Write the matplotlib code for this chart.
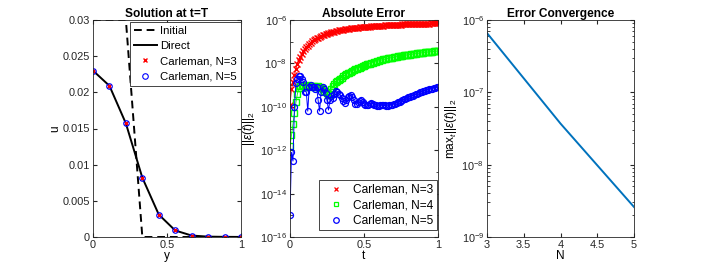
import numpy as np
import matplotlib
matplotlib.use("Agg")
import matplotlib.pyplot as plt
from matplotlib.lines import Line2D
from matplotlib.ticker import LogLocator, FixedLocator, NullFormatter

plt.rcParams['font.family'] = ['Liberation Sans', 'DejaVu Sans']
plt.rcParams['mathtext.fontset'] = 'custom'
plt.rcParams['mathtext.rm'] = 'Liberation Sans'
plt.rcParams['mathtext.it'] = 'Liberation Sans:italic'
plt.rcParams['mathtext.bf'] = 'Liberation Sans:bold'

# ---- panel 1: solution at t=T ----
y_grid = [0, 1/9, 2/9, 3/9, 4/9, 5/9, 6/9, 7/9, 8/9, 1]
u_initial = [0.03, 0.03, 0.03, 0, 0, 0, 0, 0, 0, 0]
u_direct = [0.0230, 0.0209, 0.0157, 0.0082, 0.0031, 0.0009, 0.0002, 0.00005, 0.00002, 0.00001]
u_carl3 = [0.0230, 0.0209, 0.0157, 0.0082, 0.0031, 0.0009, 0.0002, 0.00005, 0.00002, 0.00001]
u_carl5 = [0.0230, 0.0209, 0.0157, 0.0082, 0.0031, 0.0009, 0.0002, 0.00005, 0.00002, 0.00001]

# ---- panel 2: absolute error over time (log10 of ||eps||_2) ----
t_vals = [i / 100 for i in range(101)]
log_err3 = [
    -9.9, -9.2, -8.85, -8.55, -8.25, -8.02, -7.85, -7.70, -7.57, -7.45,
    -7.35, -7.26, -7.18, -7.11, -7.05, -6.99, -6.94, -6.89, -6.85, -6.81,
    -6.77, -6.74, -6.71, -6.68, -6.65, -6.63, -6.61, -6.59, -6.57, -6.55,
    -6.53, -6.51, -6.50, -6.48, -6.47, -6.46, -6.44, -6.43, -6.42, -6.41,
    -6.40, -6.39, -6.38, -6.37, -6.36, -6.355, -6.35, -6.34, -6.335, -6.33,
    -6.32, -6.315, -6.31, -6.305, -6.30, -6.295, -6.29, -6.285, -6.28, -6.275,
    -6.27, -6.265, -6.26, -6.255, -6.25, -6.245, -6.24, -6.236, -6.232, -6.228,
    -6.224, -6.22, -6.217, -6.214, -6.211, -6.208, -6.205, -6.202, -6.199, -6.196,
    -6.193, -6.19, -6.188, -6.185, -6.183, -6.18, -6.178, -6.176, -6.174, -6.172,
    -6.17, -6.168, -6.166, -6.164, -6.162, -6.16, -6.158, -6.156, -6.154, -6.152,
    -6.15]
log_err4 = [
    -11.8, -11.3, -10.8, -10.3, -9.8, -9.4, -9.15, -9.05, -9.0, -9.05,
    -9.1, -9.05, -9.0, -9.05, -9.1, -9.05, -9.05, -9.1, -9.1, -9.05,
    -9.1, -9.15, -9.2, -9.25, -9.3, -9.38, -9.45, -9.4, -9.2, -9.05,
    -8.95, -8.88, -8.81, -8.75, -8.70, -8.65, -8.60, -8.55, -8.51, -8.46,
    -8.42, -8.38, -8.35, -8.31, -8.28, -8.25, -8.22, -8.19, -8.16, -8.13,
    -8.10, -8.08, -8.05, -8.03, -8.01, -7.98, -7.96, -7.94, -7.92, -7.90,
    -7.88, -7.86, -7.84, -7.82, -7.81, -7.79, -7.77, -7.76, -7.74, -7.73,
    -7.72, -7.70, -7.69, -7.68, -7.66, -7.65, -7.64, -7.63, -7.62, -7.61,
    -7.60, -7.59, -7.58, -7.57, -7.56, -7.55, -7.54, -7.53, -7.52, -7.51,
    -7.50, -7.49, -7.48, -7.475, -7.47, -7.46, -7.455, -7.45, -7.44, -7.435,
    -7.43]
log_err5 = [
    -15.0, -12.1, -12.5, -10.0, -8.92, -8.7, -8.6, -8.6, -8.7, -8.85,
    -9.3, -9.3, -10.2, -9.1, -9.0, -9.1, -9.1, -9.2, -9.1, -9.7,
    -10.2, -9.3, -9.1, -9.2, -9.35, -9.7, -10.15, -9.7, -9.5, -9.6,
    -9.4, -9.25, -9.3, -9.4, -9.46, -9.6, -9.75, -9.84, -9.7, -9.55,
    -9.48, -9.46, -9.55, -9.7, -9.85, -9.88, -9.8, -9.72, -9.7, -9.76,
    -9.85, -9.9, -9.92, -9.9, -9.86, -9.84, -9.86, -9.9, -9.93, -9.95,
    -9.95, -9.94, -9.93, -9.93, -9.94, -9.95, -9.95, -9.94, -9.92, -9.9,
    -9.88, -9.85, -9.82, -9.79, -9.76, -9.73, -9.7, -9.66, -9.63, -9.6,
    -9.57, -9.54, -9.51, -9.48, -9.45, -9.42, -9.39, -9.36, -9.33, -9.31,
    -9.28, -9.26, -9.24, -9.22, -9.2, -9.18, -9.16, -9.14, -9.12, -9.11,
    -9.1]

# ---- panel 3: max error vs N ----
N_vals = [3, 4, 5]
max_err = [6.6e-7, 3.7e-8, 2.6e-9]

ink = '#262626'
mat_blue = (0, 0.447, 0.741)
tick_fs = 7.9
lab_fs = 8.6
leg_fs = 8.2

fig = plt.figure(figsize=(7.01, 2.66), dpi=100)
ax1 = fig.add_axes([93/701, 29/266, 148/701, 217/266])
ax2 = fig.add_axes([290/701, 29/266, 148/701, 217/266])
ax3 = fig.add_axes([487/701, 29/266, 147/701, 217/266])

for ax in (ax1, ax2, ax3):
    ax.tick_params(direction='in', which='both', top=True, right=True,
                   labelsize=tick_fs, colors=ink, length=3, pad=2)
    ax.tick_params(which='minor', length=1.8)
    for s in ax.spines.values():
        s.set_color(ink)
        s.set_linewidth(0.6)

# panel 1
ax1.plot(y_grid, u_initial, color='k', lw=1.4, dashes=(4, 2.5), label='Initial')
ax1.plot(y_grid, u_direct, color='k', lw=1.4, label='Direct')
ax1.plot(y_grid, u_carl3, 'x', color='red', ms=3, mew=1, label='Carleman, N=3')
ax1.plot(y_grid, u_carl5, 'o', color='blue', mfc='none', ms=4, mew=0.8,
         label='Carleman, N=5')
ax1.set_xlim(0, 1)
ax1.set_ylim(0, 0.03)
ax1.set_xticks([0, 0.5, 1])
ax1.set_xticklabels(['0', '0.5', '1'])
ax1.set_yticks([0, 0.005, 0.01, 0.015, 0.02, 0.025, 0.03])
ax1.set_yticklabels(['0', '0.005', '0.01', '0.015', '0.02', '0.025', '0.03'])
ax1.set_title('Solution at t=T', fontsize=lab_fs, fontweight='bold', pad=2)
ax1.set_xlabel('y', fontsize=lab_fs, labelpad=0)
ax1.set_ylabel('u', fontsize=lab_fs, labelpad=1)
leg1 = ax1.legend(loc='upper right', bbox_to_anchor=(1.0, 0.99), fontsize=leg_fs,
                  fancybox=False, edgecolor=ink, borderaxespad=0,
                  handlelength=2.0, handletextpad=0.3, borderpad=0.35,
                  labelspacing=0.45, framealpha=1)
leg1.get_frame().set_linewidth(0.6)

# panel 2
t = np.array(t_vals)
e3 = 10.0 ** np.array(log_err3)
e4 = 10.0 ** np.array(log_err4)
e5 = 10.0 ** np.array(log_err5)
ax2.semilogy(t, e3, '-x', color='red', lw=0.6, ms=4.2, mew=1.0)
ax2.semilogy(t, e4, '-s', color=(0, 1, 0), lw=0.6, ms=3.8, mew=1.0, mfc='none')
ax2.semilogy(t, e5, '-o', color='blue', lw=0.7, ms=4.3, mew=0.9, mfc='none')
ax2.set_xlim(0, 1)
ax2.set_ylim(1e-16, 1e-6)
ax2.set_xticks([0, 0.5, 1])
ax2.set_xticklabels(['0', '0.5', '1'])
ax2.yaxis.set_major_locator(FixedLocator([1e-16, 1e-14, 1e-12, 1e-10, 1e-8, 1e-6]))
ax2.yaxis.set_minor_locator(FixedLocator([1e-15, 1e-13, 1e-11, 1e-9, 1e-7]))
ax2.yaxis.set_minor_formatter(NullFormatter())
ax2.set_title('Absolute Error', fontsize=lab_fs, fontweight='bold', pad=2)
ax2.set_xlabel('t', fontsize=lab_fs, labelpad=0)
ax2.set_ylabel(r'$||\epsilon(t)||_2$', fontsize=lab_fs, labelpad=2)
handles2 = [
    Line2D([], [], ls='none', marker='x', color='red', ms=3.5, mew=0.9),
    Line2D([], [], ls='none', marker='s', color=(0, 1, 0), mfc='none', ms=3.5, mew=0.9),
    Line2D([], [], ls='none', marker='o', color='blue', mfc='none', ms=4, mew=0.9),
]
leg2 = ax2.legend(handles2, ['Carleman, N=3', 'Carleman, N=4', 'Carleman, N=5'],
                  loc='lower right', bbox_to_anchor=(0.995, 0.03), fontsize=lab_fs,
                  fancybox=False, edgecolor=ink, borderaxespad=0,
                  handlelength=2.2, handletextpad=0.4, borderpad=0.3,
                  labelspacing=0.3, framealpha=1)
leg2.get_frame().set_linewidth(0.6)

# panel 3
ax3.semilogy(N_vals, max_err, color=mat_blue, lw=1.4)
ax3.set_xlim(3, 5)
ax3.set_ylim(1e-9, 1e-6)
ax3.set_xticks([3, 3.5, 4, 4.5, 5])
ax3.set_xticklabels(['3', '3.5', '4', '4.5', '5'])
ax3.yaxis.set_major_locator(LogLocator(base=10, numticks=10))
ax3.yaxis.set_minor_locator(LogLocator(base=10, subs=np.arange(2, 10), numticks=10))
ax3.yaxis.set_minor_formatter(NullFormatter())
ax3.set_title('Error Convergence', fontsize=lab_fs, fontweight='bold', pad=2)
ax3.set_xlabel('N', fontsize=lab_fs, labelpad=0)
ax3.set_ylabel(r'$\mathrm{max}_t||\epsilon(t)||_2$', fontsize=lab_fs, labelpad=2)

fig.savefig('out.png', dpi=100)
